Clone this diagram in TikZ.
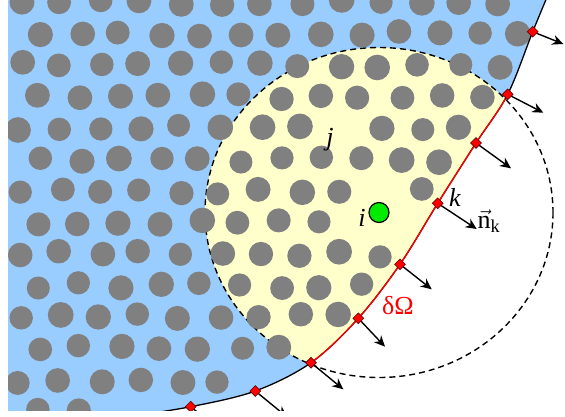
\documentclass[tikz,border=0pt]{standalone}
\usepackage{amsmath}
\usepackage{fontspec}
\setmainfont{Liberation Serif}
\usetikzlibrary{shapes.geometric,arrows.meta}
\definecolor{regionblue}{RGB}{153,204,255}
\definecolor{zoneyellow}{RGB}{255,255,204}
\definecolor{dotgray}{RGB}{128,128,128}
\definecolor{partgreen}{RGB}{0,235,0}

\begin{document}
\begin{tikzpicture}[
  x=1pt,y=-1pt,
  font=\fontsize{26}{30}\selectfont,
  dot/.style={fill=dotgray},
  zone/.style={dash pattern=on 6pt off 4pt,line width=1.4pt},
  bnd/.style={line width=1.3pt,line join=round},
  marker/.style={diamond,draw=black!60!red,fill=red,line width=0.6pt,inner sep=0pt,minimum size=11pt},
  normal/.style={-{Stealth[length=11pt,width=10pt]},line width=1.4pt},
  lbl/.style={inner sep=1pt}
]
\useasboundingbox (0,0) rectangle (565,416);
\clip (8,0) rectangle (565,410);
% points on the boundary
\coordinate (btop) at (550,-10);
\coordinate (b8) at (532.7,31.7);
\coordinate (b7) at (507.7,94.3);
\coordinate (b6) at (476,143);
\coordinate (b5) at (437.7,203.3);
\coordinate (b4) at (400,264.3);
\coordinate (b3) at (358.3,318.3);
\coordinate (b2) at (311,362.7);
\coordinate (b1) at (255.3,391);
\coordinate (b0) at (190.7,406.7);
\coordinate (bbot) at (120,418);
\coordinate (ctr) at (379,212.5);

\draw[zone] (ctr) ellipse [x radius=174,y radius=165];
\begin{scope}
  \clip (-5,-20) -- plot[smooth,tension=0.55] coordinates {(btop) (b8) (b7) (b6) (b5) (b4) (b3) (b2) (b1) (b0) (bbot)} -- (-5,430) -- cycle;
  \fill[regionblue] (0,-20) rectangle (600,430);
  \fill[zoneyellow] (ctr) ellipse [x radius=174,y radius=165];
  \draw[zone] (ctr) ellipse [x radius=174,y radius=165];
  % particles, kept clear of the boundary
  \pgfmathsetseed{11}
  \foreach \r in {0,...,13}{
    \foreach \c in {0,...,14}{
      \pgfmathsetmacro\dx{20+\c*40+mod(\r,2)*20+3*rand}
      \pgfmathsetmacro\dy{2+\r*31.5+3*rand}
      \pgfmathsetmacro\rad{12.2+0.7*rand}
      \pgfmathsetmacro\gap{max(0.1578*(\dx-120)+0.9874*(\dy-418),
        0.2362*(\dx-190.7)+0.9717*(\dy-406.7),
        0.4530*(\dx-255.3)+0.8915*(\dy-391),
        0.6844*(\dx-311)+0.7291*(\dy-362.7),
        0.7914*(\dx-358.3)+0.6112*(\dy-318.3),
        0.8506*(\dx-400)+0.5257*(\dy-264.3),
        0.8441*(\dx-437.7)+0.5361*(\dy-203.3),
        0.8381*(\dx-476)+0.5455*(\dy-143),
        0.9287*(\dx-507.7)+0.3709*(\dy-94.3),
        0.9115*(\dx-532.7)+0.4112*(\dy-31.7))}
      \pgfmathtruncatemacro\keep{(veclen(\dx-379,\dy-212.5)>27)&&(veclen(\dx-330,\dy-140)>19)&&(\gap<-12.5)}
      \ifnum\keep=1 \fill[dot] (\dx,\dy) circle [radius=\rad]; \fi
    }
  }
\end{scope}

\draw[bnd] plot[smooth,tension=0.55] coordinates {(btop) (b8) (b7) (b6) (b5) (b4) (b3) (b2) (b1) (b0) (bbot)};
\begin{scope}
  \clip (ctr) ellipse [x radius=174,y radius=165];
  \draw[bnd,red] plot[smooth,tension=0.55] coordinates {(btop) (b8) (b7) (b6) (b5) (b4) (b3) (b2) (b1) (b0) (bbot)};
\end{scope}

% normals
\foreach \n/\tx/\ty in {0/223/433,1/287/417,2/343.3/389.3,3/385/346.7,4/431.7/289.3,5/476.7/229,6/511/168.3,7/543.3/112.7,8/563.3/44}{
  \coordinate (t\n) at (\tx,\ty);
  \draw[normal] (b\n) -- (t\n);
  \node[marker] (m\n) at (b\n) {};
}

\node[draw,circle,fill=partgreen,line width=1.2pt,inner sep=0pt,minimum size=20pt] (parti) at (ctr) {};
\node[lbl] (lj) at (330,140) {\textit{j}};
\node[lbl] (li) at (362,218) {\textit{i}};
\node[lbl] (lk) at (455,197) {\textit{k}};
\node[lbl] (ln) at (489,221) {$\vec{\text{n}}_{\text{k}}$};
\node[lbl,text=red] (ld) at (398,306) {δΩ};
\end{tikzpicture}
\end{document}
